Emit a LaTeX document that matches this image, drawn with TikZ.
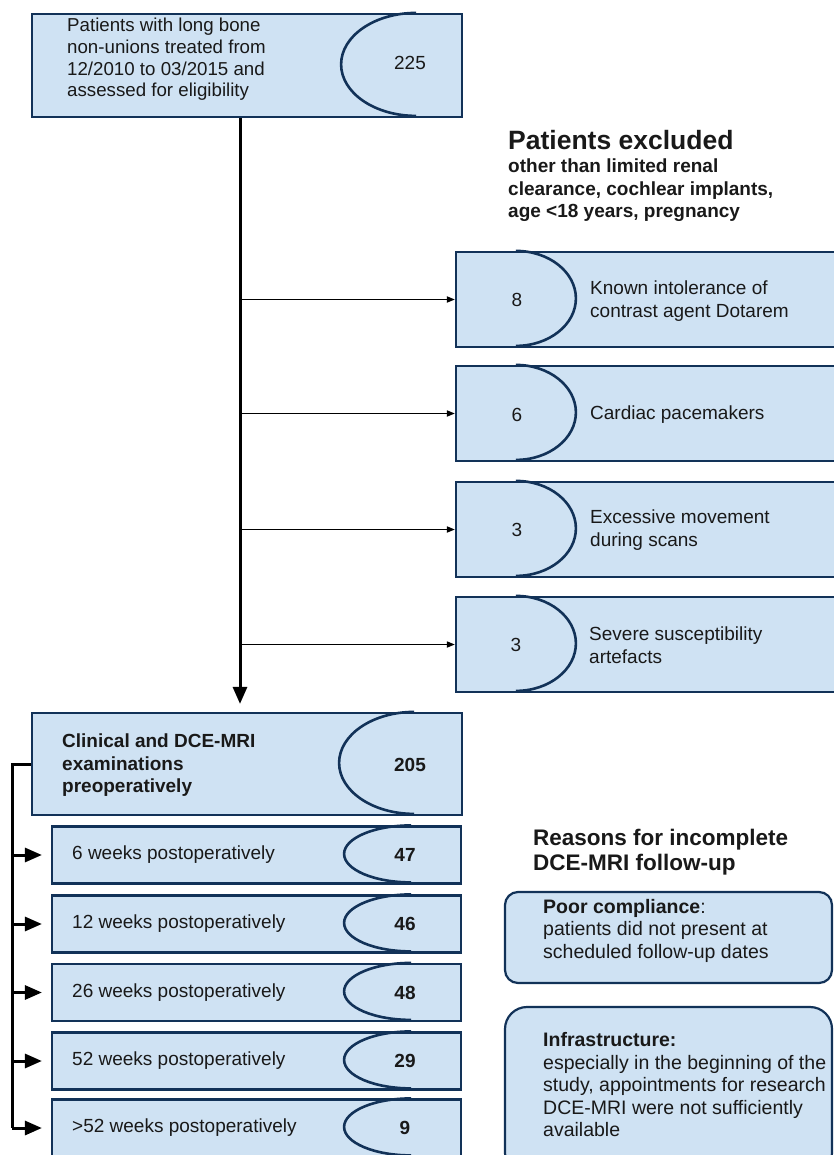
\documentclass[tikz,border=0pt]{standalone}
\usepackage{fontspec}
\setmainfont{Liberation Sans}
\usetikzlibrary{arrows.meta,calc}
\definecolor{boxfill}{RGB}{207,226,243}
\definecolor{boxline}{RGB}{18,50,88}
\definecolor{txt}{RGB}{25,25,25}
\tikzset{
 box/.style={draw=boxline, fill=boxfill, line width=2.2pt, inner sep=0pt, rectangle},
 curve/.style={draw=boxline, line width=2.6pt},
 reg/.style={font=\fontsize{19}{22.5}\selectfont, text=txt, inner sep=0pt, align=left},
 bld/.style={font=\fontsize{19}{22.5}\selectfont\bfseries, text=txt, inner sep=0pt, align=left},
 mainline/.style={line width=3pt, draw=black},
 thinline/.style={line width=1.6pt, draw=black},
 bigtip/.style={-{Triangle[length=17pt,width=14pt]}},
 smalltip/.style={-{Triangle[length=8pt,width=6pt]}},
}
\begin{document}
\begin{tikzpicture}[x=1pt,y=1pt]
\useasboundingbox (0,0) rectangle (834,-1155);
\clip (0,0) rectangle (834,-1155);
\fill[white] (0,0) rectangle (834,-1155);

% top box
\node[box, minimum width=430pt, minimum height=103pt] (top) at (247,-65.5) {};
\draw[curve] ($(top.north east)+(-47,0)$) arc[start angle=90,end angle=270,x radius=75pt,y radius=51.5pt];
\node[reg, font=\fontsize{18.7}{21.7}\selectfont, anchor=west] (ttop) at (67,-59.5) {Patients with long bone\\non-unions treated from\\12/2010 to 03/2015 and\\assessed for eligibility};
\node[reg] (ntop) at (410,-63) {225};

% exclusion heading
\node[font=\fontsize{26.5}{30}\selectfont\bfseries, text=txt, anchor=west, inner sep=0pt] (exh) at (508,-140) {Patients excluded};
\node[bld, anchor=west] (exs) at (508,-190.5) {other than limited renal\\clearance, cochlear implants,\\age <18 years, pregnancy};

% exclusion boxes
\foreach \i/\y in {1/299.5,2/413.5,3/529.5,4/644.5}{
  \node[box, minimum width=384pt, minimum height=95pt] (e\i) at (648,-\y) {};
  \draw[curve] ($(e\i.north west)+(61,0)$) arc[start angle=90,end angle=-90,x radius=60pt,y radius=47.5pt];
}
\node[reg] (n1) at (517,-300) {8};
\node[reg] (n2) at (517,-415) {6};
\node[reg] (n3) at (517,-530) {3};
\node[reg] (n4) at (516,-645) {3};
\node[reg, anchor=west] (t1) at (590,-301) {Known intolerance of\\contrast agent Dotarem};
\node[reg, anchor=west] (t2) at (590,-415) {Cardiac pacemakers};
\node[reg, anchor=west] (t3) at (590,-530) {Excessive movement\\during scans};
\node[reg, anchor=west] (t4) at (589,-645) {Severe susceptibility\\artefacts};

% clinical box
\node[box, minimum width=430pt, minimum height=102pt] (clin) at (247,-764) {};
\draw[curve] ($(clin.north east)+(-49,0)$) arc[start angle=90,end angle=270,x radius=75pt,y radius=51pt];
\node[bld, anchor=west] (tclin) at (62,-765.5) {Clinical and DCE-MRI\\examinations\\preoperatively};
\node[bld] (nclin) at (410,-765) {205};

% main vertical connector and branches
\coordinate (vx) at (240,0);
\draw[mainline, -{Triangle[length=17pt,width=14pt]}, shorten >=8pt] (top.south -| vx) -- (clin.north -| vx);
\foreach \i in {1,2,3,4}{
  \draw[thinline, smalltip] (e\i.west -| vx) -- (e\i.west);
}

% follow-up boxes
\foreach \i/\y/\lab/\num in {1/855/6 weeks postoperatively/47,2/924/12 weeks postoperatively/46,3/992.5/26 weeks postoperatively/48,4/1061/52 weeks postoperatively/29,5/1128/>52 weeks postoperatively/9}{
  \node[box, minimum width=409pt, minimum height=57pt] (f\i) at (256.5,-\y) {};
  \draw[curve] ($(f\i.north east)+(-51,0)$) arc[start angle=90,end angle=270,x radius=67pt,y radius=28.5pt];
  \node[reg, anchor=west] (ft\i) at (72,-\y) {\lab};
  \node[bld] (fn\i) at (405,-\y) {\num};
}

% bracket
\coordinate (bx) at (12,0);
\draw[mainline] (clin.west) -| (f5.west -| bx);
\foreach \i in {1,2,3,4,5}{
  \draw[mainline, bigtip, shorten >=9pt] (f\i.west -| bx) -- (f\i.west);
}

% reasons
\node[font=\fontsize{22.5}{25}\selectfont\bfseries, text=txt, anchor=west, align=left, inner sep=0pt] (rh) at (533,-852.5) {Reasons for incomplete\\DCE-MRI follow-up};
\node[box, rounded corners=13pt, minimum width=327pt, minimum height=91pt] (r1) at (668.5,-937.5) {};
\node[reg, font=\fontsize{19.5}{22.5}\selectfont, anchor=west] (rt1) at (543,-930.5) {\textbf{Poor compliance}:\\patients did not present at\\scheduled follow-up dates};
\node[box, rounded corners=22pt, minimum width=327pt, minimum height=168pt] (r2) at (668.5,-1091) {};
\node[reg, font=\fontsize{19.5}{22.5}\selectfont, anchor=west] (rt2) at (543,-1085) {\textbf{Infrastructure:}\\especially in the beginning of the\\study, appointments for research\\DCE-MRI were not sufficiently\\available};
\end{tikzpicture}
\end{document}
